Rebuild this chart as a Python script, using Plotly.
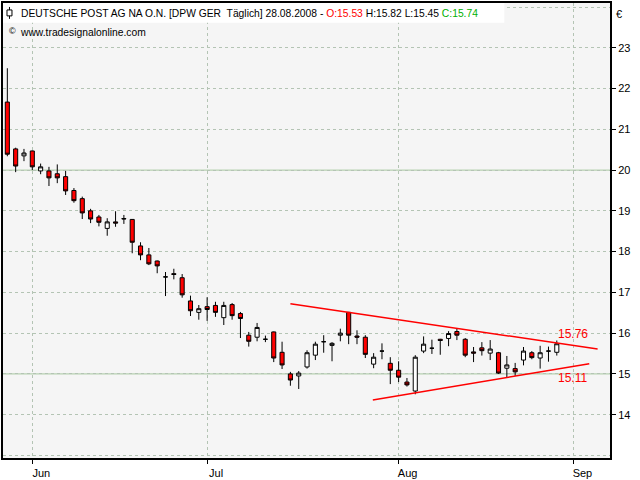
import pandas as pd
import plotly.graph_objects as go

# ---- data ----
days = pd.bdate_range("2008-05-28", "2008-08-28")
opens = [21.67, 20.52, 20.35, 20.47, 19.98, 19.98, 19.91, 19.84, 19.50, 19.30,
         19.00, 18.85, 18.57, 18.73, 18.80, 18.79, 18.14, 17.92, 17.77, 17.38,
         17.46, 17.36, 16.79, 16.51, 16.65, 16.68, 16.38, 16.70, 16.48, 15.95,
         15.90, 15.85, 16.03, 15.53, 15.00, 14.95, 15.17, 15.46, 15.79, 15.70,
         15.95, 16.51, 15.93, 15.90, 15.24, 15.56, 15.26, 15.09, 14.80, 14.58,
         15.56, 15.63, 15.85, 15.87, 16.04, 15.85, 15.54, 15.64, 15.51, 15.52,
         15.14, 15.13, 15.34, 15.52, 15.39, 15.56, 15.53]
highs = [22.50, 20.55, 20.52, 20.48, 20.16, 20.08, 20.14, 19.98, 19.56, 19.35,
         19.05, 18.90, 18.82, 18.99, 18.90, 18.80, 18.23, 18.09, 17.78, 17.50,
         17.58, 17.45, 16.92, 16.69, 16.88, 16.77, 16.77, 16.74, 16.52, 16.03,
         16.25, 15.94, 16.04, 15.79, 15.05, 15.07, 15.58, 15.79, 15.95, 15.78,
         16.11, 16.52, 16.07, 15.95, 15.51, 15.75, 15.41, 15.31, 14.90, 15.46,
         15.92, 15.84, 15.86, 16.05, 16.11, 15.88, 15.66, 15.78, 15.83, 15.54,
         15.44, 15.27, 15.66, 15.56, 15.69, 15.67, 15.82]
lows = [20.34, 19.95, 20.22, 20.00, 19.90, 19.61, 19.68, 19.39, 19.20, 18.80,
        18.70, 18.62, 18.39, 18.61, 18.68, 17.96, 17.79, 17.67, 17.47, 16.91,
        17.32, 16.87, 16.42, 16.33, 16.30, 16.40, 16.20, 16.33, 15.88, 15.67,
        15.80, 15.78, 15.29, 15.12, 14.71, 14.63, 15.13, 15.34, 15.52, 15.31,
        15.80, 15.73, 15.73, 15.39, 15.14, 15.36, 14.75, 14.80, 14.69, 14.50,
        15.51, 15.49, 15.47, 15.68, 15.83, 15.41, 15.29, 15.45, 15.34, 15.00,
        14.90, 14.95, 15.21, 15.36, 15.13, 15.30, 15.45]
closes = [20.39, 20.10, 20.42, 20.08, 20.08, 19.81, 19.81, 19.49, 19.25, 18.95,
          18.80, 18.72, 18.73, 18.70, 18.81, 18.23, 17.92, 17.70, 17.65, 17.38,
          17.44, 16.94, 16.55, 16.60, 16.58, 16.51, 16.68, 16.43, 16.36, 15.80,
          16.14, 15.85, 15.39, 15.22, 14.85, 15.02, 15.52, 15.73, 15.79, 15.75,
          16.00, 15.95, 15.90, 15.48, 15.41, 15.56, 15.09, 14.92, 14.73, 15.41,
          15.73, 15.63, 15.82, 15.99, 15.95, 15.46, 15.51, 15.57, 15.61, 15.02,
          15.22, 15.05, 15.56, 15.40, 15.52, 15.56, 15.74]

month_ticks = [3, 24, 47, 68]
month_labels = ["Jun", "Jul", "Aug", "Sep"]
price_ticks = [14, 15, 16, 17, 18, 19, 20, 21, 22, 23]
extra_grid = [13, 24]
ref_levels = [15, 20]

upper_x = [34.0, 70.9]
upper_y = [16.72, 15.61]
lower_x = [43.9, 69.9]
lower_y = [14.36, 15.25]
upper_label = "15.76"
lower_label = "15.11"

x = list(range(len(opens)))
FONT = "Liberation Sans"
GRID = "#b4c4b4"

fig = go.Figure()
fig.add_trace(go.Candlestick(
    x=x, open=opens, high=highs, low=lows, close=closes,
    text=[d.strftime("%d.%m.%Y") for d in days],
    increasing=dict(line=dict(color="black", width=1), fillcolor="white"),
    decreasing=dict(line=dict(color="black", width=1), fillcolor="#ff0000"),
    whiskerwidth=0, showlegend=False,
))
fig.add_trace(go.Scatter(x=upper_x, y=upper_y, mode="lines",
                         line=dict(color="#ff0000", width=1.5), showlegend=False))
fig.add_trace(go.Scatter(x=lower_x, y=lower_y, mode="lines",
                         line=dict(color="#ff0000", width=1.5), showlegend=False))

for lv in ref_levels:
    fig.add_shape(type="line", xref="paper", x0=0, x1=1, yref="y", y0=lv, y1=lv,
                  line=dict(color="#a8c8a0", width=1), layer="below")

W, H = 640, 480
L, R, T, B = 1, 30, 1, 20
pw, ph = W - L - R, H - T - B


def px(xp):
    return (xp - L) / pw


def py(yp):
    return 1 - (yp - T) / ph


# white header box
fig.add_shape(type="rect", xref="paper", yref="paper", x0=0, x1=px(504),
              y0=py(21), y1=1, fillcolor="white", line=dict(width=0), layer="above")
# small candle icon
fig.add_shape(type="line", xref="paper", yref="paper", x0=px(7.5), x1=px(7.5),
              y0=py(17), y1=py(5), line=dict(color="black", width=1), layer="above")
fig.add_shape(type="rect", xref="paper", yref="paper", x0=px(5), x1=px(10),
              y0=py(14), y1=py(8), fillcolor="white", line=dict(color="black", width=1),
              layer="above")

title = ("DEUTSCHE POST AG NA O.N. [DPW GER\u00a0 Täglich] 28.08.2008 - "
         "<span style='color:#ff0000'>O:15.53</span> H:15.82 L:15.45 "
         "<span style='color:#00b000'>C:15.74</span>")
fig.add_annotation(text=title, xref="paper", yref="paper", x=px(17), y=py(11.5),
                   xanchor="left", yanchor="middle", showarrow=False,
                   font=dict(family=FONT, size=10.3, color="black"))
fig.add_annotation(text="©", xref="paper", yref="paper", x=px(5), y=py(29),
                   xanchor="left", yanchor="middle", showarrow=False,
                   font=dict(family=FONT, size=9, color="black"))
fig.add_annotation(text="www.tradesignalonline.com", xref="paper", yref="paper",
                   x=px(16), y=py(31), xanchor="left", yanchor="middle", showarrow=False,
                   font=dict(family=FONT, size=10.3, color="black"))
fig.add_annotation(text="€", xref="paper", yref="paper", x=px(614), y=py(12),
                   xanchor="left", yanchor="middle", showarrow=False,
                   font=dict(family=FONT, size=11, color="black"))

fig.add_annotation(text=upper_label, x=x[-1], y=upper_y[0] + (upper_y[1] - upper_y[0]) *
                   (x[-1] - upper_x[0]) / (upper_x[1] - upper_x[0]), xref="x", yref="y",
                   xanchor="left", yanchor="bottom", xshift=-1, yshift=0, showarrow=False,
                   font=dict(family=FONT, size=12, color="#ff0000"))
fig.add_annotation(text=lower_label, x=x[-1], y=lower_y[0] + (lower_y[1] - lower_y[0]) *
                   (x[-1] - lower_x[0]) / (lower_x[1] - lower_x[0]), xref="x", yref="y",
                   xanchor="left", yanchor="top", xshift=-1, yshift=0, showarrow=False,
                   font=dict(family=FONT, size=12, color="#ff0000"))

fig.update_layout(
    width=W, height=H,
    margin=dict(l=L, r=R, t=T, b=B, pad=0),
    paper_bgcolor="white", plot_bgcolor="#f5f5f5",
    boxgap=0.3,
    font=dict(family=FONT, size=11, color="black"),
    showlegend=False,
    xaxis=dict(
        range=[-0.52, 72.39], tickmode="array", tickvals=month_ticks, ticktext=month_labels,
        ticks="outside", ticklen=4, tickcolor="black", tickwidth=1,
        ticklabelshift=9, tickfont=dict(size=11),
        showgrid=True, gridcolor=GRID, griddash="dot", gridwidth=1,
        showline=True, mirror=True, linecolor="black", linewidth=2,
        zeroline=False, rangeslider=dict(visible=False),
    ),
    yaxis=dict(
        side="right", range=[12.937, 24.10], tickmode="array", tickvals=price_ticks,
        ticks="outside", ticklen=4, tickcolor="black", tickwidth=1,
        tickfont=dict(size=11),
        showgrid=True, gridcolor=GRID, griddash="dot", gridwidth=1,
        minor=dict(tickmode="array", tickvals=extra_grid, showgrid=True,
                   gridcolor=GRID, griddash="dot", gridwidth=1),
        showline=True, mirror=True, linecolor="black", linewidth=2,
        zeroline=False,
    ),
)

fig.write_html("out.html", config={"displayModeBar": False},
               post_script="document.body.style.margin='0px';"
                           "document.body.style.overflow='hidden';")
